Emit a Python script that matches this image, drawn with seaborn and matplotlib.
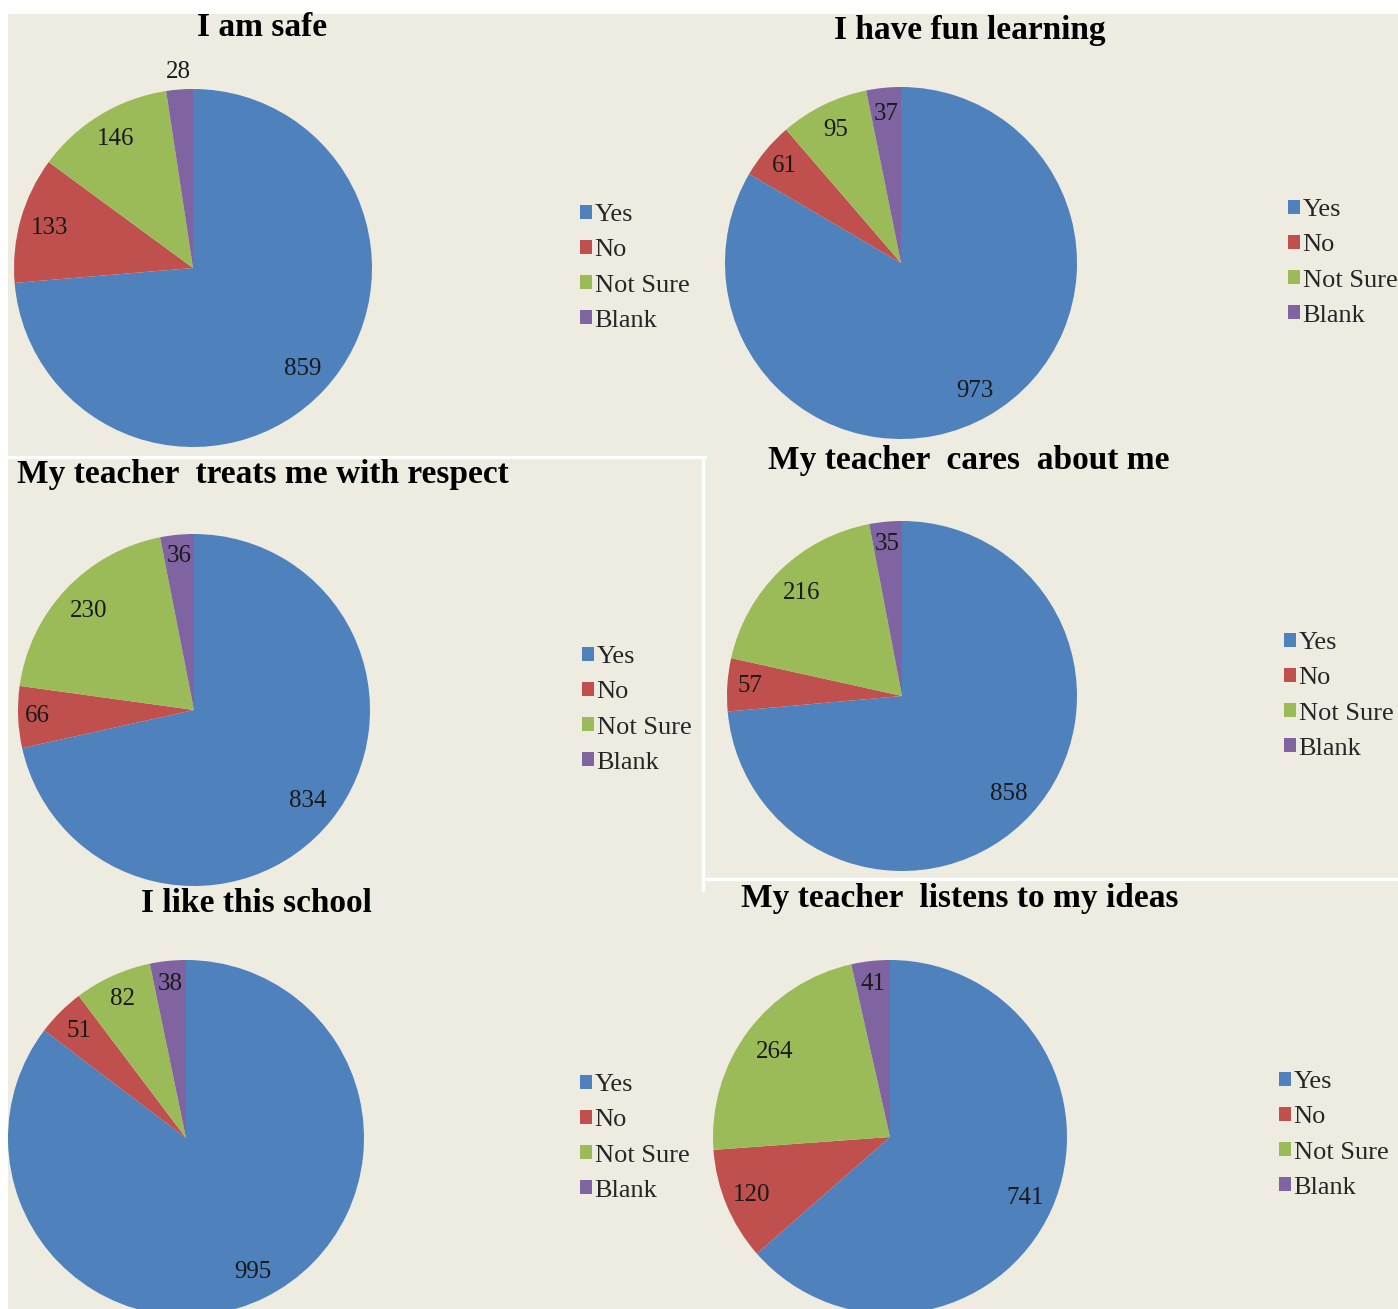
import numpy as np
import matplotlib
matplotlib.use("Agg")
import matplotlib.pyplot as plt
import seaborn as sns
from matplotlib.patches import Rectangle
from matplotlib.lines import Line2D

# =========================
# DATA
# =========================
categories = ["Yes", "No", "Not Sure", "Blank"]

titles = [
    "I am safe",
    "I have fun learning",
    "My teacher  treats me with respect",
    "My teacher  cares  about me",
    "I like this school",
    "My teacher  listens to my ideas",
]

i_am_safe = [859, 133, 146, 28]
fun_learning = [973, 61, 95, 37]
treats_respect = [834, 66, 230, 36]
cares_about_me = [858, 57, 216, 35]
like_school = [995, 51, 82, 38]
listens_ideas = [741, 120, 264, 41]

series = [i_am_safe, fun_learning, treats_respect, cares_about_me, like_school, listens_ideas]

# =========================
# STYLE
# =========================
sns.set_style("white")
plt.rcParams['font.family'] = ['Liberation Serif', 'DejaVu Serif']

colors = ["#4F81BD", "#C0504D", "#9BBB59", "#8064A2"]
bg = "#EEECE1"

W, H = 1398, 1309
fig = plt.figure(figsize=(W / 100, H / 100), dpi=100, facecolor="white")

def fx(x):
    return x / W

def fy(y):
    return 1 - y / H

# beige panel area
fig.patches.append(Rectangle((fx(8), 0), (W - 8) / W, (H - 14) / H,
                             transform=fig.transFigure, facecolor=bg,
                             edgecolor="none", zorder=-2))
# white separators
for xs, ys in [([8, 705], [457, 457]), ([703, 703], [457, 890]), ([705, W], [879, 879])]:
    fig.lines.append(Line2D([fx(v) for v in xs], [fy(v) for v in ys],
                            transform=fig.transFigure, color="white", lw=2.4, zorder=-1))

# panel layout: pie centre, radius, title centre, legend anchor (left x, centre y)
layout = [
    dict(c=(193, 268), r=179, t=(262, 27), leg=(580, 268)),
    dict(c=(901, 263), r=176, t=(970, 30), leg=(1288, 263)),
    dict(c=(194, 710), r=176, t=(263, 475), leg=(582, 710)),
    dict(c=(902, 696), r=175, t=(969, 461), leg=(1284, 696)),
    dict(c=(186, 1138), r=178, t=(256, 903), leg=(580, 1138)),
    dict(c=(890, 1137), r=177, t=(960, 899), leg=(1279, 1135)),
]
# distance of the value label from the centre (fraction of radius)
label_dist = [[0.83, 0.83, 0.84, 1.10],
              [0.84, 0.86, 0.84, 0.85],
              [0.83, 0.89, 0.82, 0.88],
              [0.83, 0.87, 0.82, 0.87],
              [0.84, 0.85, 0.86, 0.87],
              [0.84, 0.85, 0.81, 0.87]]

for i, (vals, title, lay) in enumerate(zip(series, titles, layout)):
    cx, cy = lay["c"]
    r = lay["r"]
    ax = fig.add_axes([fx(cx - r), fy(cy + r), 2 * r / W, 2 * r / H])
    ax.patch.set_alpha(0)
    wedges, _ = ax.pie(vals, colors=colors, startangle=90, counterclock=False,
                       radius=1, wedgeprops=dict(linewidth=0))
    ax.set_xlim(-1, 1)
    ax.set_ylim(-1, 1)
    ax.axis("off")

    for w, v, d in zip(wedges, vals, label_dist[i]):
        mid = np.deg2rad((w.theta1 + w.theta2) / 2)
        ax.text(d * np.cos(mid), d * np.sin(mid), str(v), ha="center", va="center",
                fontsize=18, color="#1a1a1a", clip_on=False)

    tx, ty = lay["t"]
    fig.text(fx(tx), fy(ty), title, ha="center", va="center",
             fontsize=24, fontweight="bold", color="black")

    lx, ly = lay["leg"]
    fig.legend(wedges, categories, loc="center left",
               bbox_to_anchor=(fx(lx), fy(ly)), bbox_transform=fig.transFigure,
               frameon=False, borderpad=0, borderaxespad=0,
               handlelength=0.45, handleheight=0.45, handletextpad=0.1,
               labelspacing=0.5, fontsize=19)

plt.savefig("out.png", dpi=100, facecolor=fig.get_facecolor())
